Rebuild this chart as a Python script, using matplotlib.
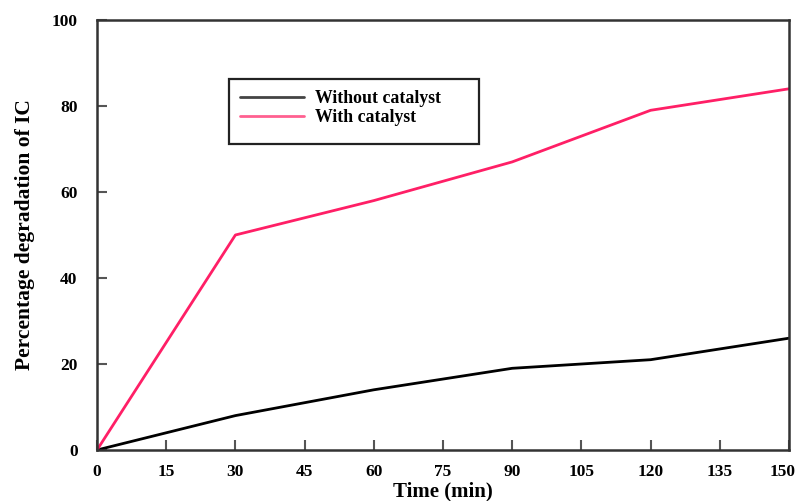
import matplotlib
matplotlib.use("Agg")
import matplotlib.pyplot as plt
import matplotlib.transforms as mtransforms
from matplotlib.patches import Rectangle

time_min = [0, 30, 60, 90, 120, 150]
without_catalyst = [0, 8, 14, 19, 21, 26]
with_catalyst = [0, 50, 58, 67, 79, 84]
x_ticks = [0, 15, 30, 45, 60, 75, 90, 105, 120, 135, 150]
y_ticks = [0, 20, 40, 60, 80, 100]

plt.rcParams['font.family'] = ['Liberation Serif', 'DejaVu Serif']
plt.rcParams['font.weight'] = 'bold'

W, H = 797, 501
fig = plt.figure(figsize=(W / 100, H / 100), dpi=100)
ax = fig.add_axes([97 / W, 1 - 450 / H, (789 - 97) / W, (450 - 20) / H])

ax.plot(time_min, without_catalyst, color='black', lw=2.0, label='Without catalyst', solid_capstyle='round')
ax.plot(time_min, with_catalyst, color='#ff1f66', lw=2.0, label='With catalyst', solid_capstyle='round')

ax.set_xlim(0, 150)
ax.set_ylim(0, 100)
ax.set_xticks(x_ticks)
ax.set_yticks(y_ticks)
ax.tick_params(direction='in', length=7, width=1.5, color='#555555',
               labelsize=12.5, top=False, right=False)
ax.tick_params(axis='x', pad=10)
ax.tick_params(axis='y', pad=14)
for lab in ax.get_xticklabels() + ax.get_yticklabels():
    lab.set_fontweight('bold')
# nudge the last x tick label inward so it stays in the picture
last = ax.get_xticklabels()[-1]
last.set_transform(last.get_transform() + mtransforms.ScaledTranslation(-6 / 100, 0, fig.dpi_scale_trans))

for s in ax.spines.values():
    s.set_linewidth(1.8)
    s.set_color('#333333')

ax.set_xlabel('Time (min)', fontsize=15, fontweight='bold', labelpad=1)
ax.set_ylabel('Percentage degradation of IC', fontsize=15.5, fontweight='bold', labelpad=12)

# legend frame
fig.patches.append(Rectangle((229 / W, 1 - 144 / H), (479 - 229) / W, (144 - 79) / H,
                             transform=fig.transFigure, fill=False, edgecolor='#222222', lw=1.6))
leg = ax.legend(loc='upper left', bbox_to_anchor=(240 / W, 1 - 90 / H),
                bbox_transform=fig.transFigure, frameon=False, borderpad=0, borderaxespad=0,
                handlelength=3.6, handletextpad=0.6, labelspacing=0.12,
                prop={'family': 'Liberation Serif', 'weight': 'bold', 'size': 12.8})
leg.get_lines()[0].set_color('#444444')
leg.get_lines()[1].set_color('#ff6090')

fig.savefig('out.png', dpi=100)
